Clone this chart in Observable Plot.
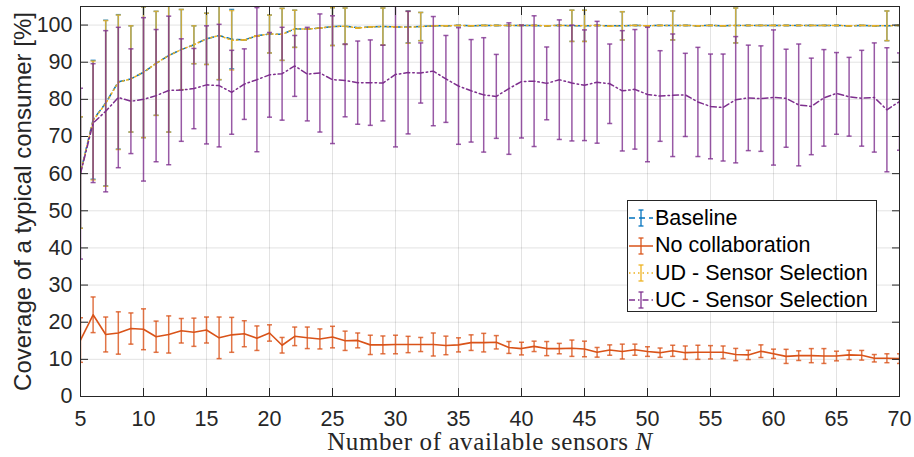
<!DOCTYPE html>
<html><head><meta charset="utf-8">
<script src="https://cdn.jsdelivr.net/npm/d3@7"></script>
<script src="https://cdn.jsdelivr.net/npm/@observablehq/plot@0.6"></script>
<style>
body{margin:0;background:#fff;}
#wrap{position:relative;width:914px;height:457px;overflow:hidden;}
#legend{position:absolute;left:627px;top:200px;width:250px;height:112px;border:1px solid #262626;background:#fff;box-sizing:border-box;font-family:"Liberation Sans",Arial,sans-serif;font-size:21.5px;color:#000;}
.row{position:absolute;left:0;height:28px;display:flex;align-items:center;white-space:nowrap;}
.row svg{display:block;margin-right:1px;}
</style></head><body><div id="wrap"></div>
<script>
// x categories: number of available sensors N
const N = [5,6,7,8,9,10,11,12,13,14,15,16,17,18,19,20,21,22,23,24,25,26,27,28,29,30,31,32,33,34,35,36,37,38,39,40,41,42,43,44,45,46,47,48,49,50,51,52,53,54,55,56,57,58,59,60,61,62,63,64,65,66,67,68,69,70];

const baselineMean = [60.3,74.5,79.0,84.7,85.5,87.3,89.7,91.8,93.4,94.7,96.3,97.2,96.2,96.0,97.1,97.6,97.5,99.0,98.9,99.2,99.6,99.7,99.3,99.5,99.6,99.5,99.5,99.6,99.8,99.8,99.9,99.8,99.9,99.9,99.9,99.9,99.9,99.8,99.9,99.8,99.8,99.9,99.8,99.8,99.9,99.8,99.9,99.9,99.9,99.8,99.9,99.8,99.9,99.9,99.9,99.9,99.9,99.9,99.9,99.9,99.9,99.8,99.9,99.8,99.8,99.9];
const baselineErr = [15,16,22.3,18.1,14.3,17.6,14,20.6,10.8,5.1,6.9,11.9,8,0,0,5.1,7,5,0,0,5.1,4.9,0,0,5,0,4.3,3.8,0,0,0,0,0,0,0,0,0,0,0,4.2,4.2,0,0,3.8,0,0,0,3.9,0,0,0,0,4.7,0,0,0,0,0,0,0,0,0,0,0,4,0];

const noCollabMean = [15.2,22.0,16.7,17.1,18.3,18.1,16.1,16.7,17.7,17.3,17.9,15.8,16.6,16.9,15.7,17.1,13.8,16.2,15.8,15.5,16.0,15.0,15.1,13.9,13.9,14.0,14.0,14.0,14.0,13.75,13.9,14.5,14.5,14.6,13.2,12.9,13.5,12.9,12.9,13.0,12.8,11.9,12.5,12.1,12.6,12.1,11.8,12.3,11.8,11.9,11.9,11.9,11.3,11.2,12.2,11.5,10.8,11.0,11.0,10.9,10.9,11.2,11.1,10.3,10.3,10.2];
const noCollabErr = [6.0,4.8,4.7,5.7,4.2,5.5,4.2,5.0,3.3,3.8,3.5,5.6,4.7,3.5,3.3,2.2,2.1,2.5,2.9,2.7,2.9,2.6,2.0,2.6,2.4,2.5,2.2,1.9,3.1,2.5,1.9,2.1,2.5,1.8,1.6,1.7,1.4,1.9,1.4,2.2,2.1,1.3,1.4,2.0,1.5,1.3,1.25,1.5,1.8,1.9,1.8,1.7,1.65,1.25,1.7,1.25,1.9,1.3,1.9,2.0,1.3,1.25,1.3,1.0,1.2,1.3];

const udMean = [60.3,74.3,78.9,84.6,85.5,87.3,89.7,91.8,93.4,94.7,96.3,97.2,95.9,96.0,97.1,97.6,97.5,99.0,98.9,99.2,99.6,99.7,99.2,99.5,99.6,99.5,99.4,99.6,99.8,99.8,99.9,99.8,99.9,99.9,99.9,99.9,99.9,99.8,99.9,99.8,99.8,99.9,99.7,99.8,99.9,99.8,99.9,99.9,99.9,99.8,99.9,99.8,99.9,99.9,99.9,99.9,99.9,99.9,99.9,99.9,99.9,99.8,99.9,99.8,99.8,99.9];
const udErr = [15,16,22.3,18.1,14.3,17.6,14,20.6,10.8,5.1,6.9,11.9,8,0,0,5.1,7,5,0,0,5.1,4.9,0,0,5,0,4.3,3.8,0,0,0,0,0,0,0,0,0,0,0,4.2,4.2,0,0,3.8,0,0,0,3.9,0,0,0,0,4.7,0,0,0,0,0,0,0,0,0,0,0,4,0];

const ucMean = [60.0,73.6,76.8,80.5,79.5,80.0,81.0,82.4,82.5,82.9,83.9,83.7,81.9,84.1,85.3,86.6,86.9,89.0,86.8,87.1,85.3,85.1,84.5,84.5,84.4,86.7,87.2,87.1,87.6,85.5,83.6,82.3,81.2,80.8,82.9,84.8,84.9,84.3,85.3,84.4,83.8,84.6,84.2,82.3,82.7,81.3,80.9,81.1,81.2,79.3,78.1,77.8,79.9,80.4,80.2,80.5,80.3,78.5,78.1,80.4,81.6,80.7,80.3,80.5,77.2,79.4];
const ucErr = [23,16,21.7,18.9,14.1,22,17.8,20,13.8,10.8,15.9,16.5,11.3,9.5,19.4,11.4,12.5,8.2,12.6,15.9,17.2,9.8,11.2,11.5,10.2,19.5,16.5,8.1,14.7,11.7,15.7,13.8,15.4,11.3,17.7,15.2,17.6,9.8,16.1,15.6,14.9,16.4,10.7,16.2,16.1,18.1,12.2,16.5,11.2,14.7,14.1,14.4,17.0,14.2,14.2,18.2,13.2,16.4,13.0,13.0,11.0,10.6,12.9,14.7,16.7,13.1];

const xTicks = [5,10,15,20,25,30,35,40,45,50,55,60,65,70];
const yTicks = [0,10,20,30,40,50,60,70,80,90,100];

const seriesNames = ["Baseline","No collaboration","UD - Sensor Selection","UC - Sensor Selection"];
const seriesColors = ["#0072BD","#D95319","#EDB120","#7E2F8E"];
const seriesDash = ["6,4",null,"1.5,3","6,3,1.5,3"];
const seriesMeans = [baselineMean, noCollabMean, udMean, ucMean];
const seriesErrs = [baselineErr, noCollabErr, udErr, ucErr];

const CAP = 0.2; // cap half-width in data units of N
const marks = [];
marks.push(Plot.gridX(xTicks, {stroke:"#262626", strokeOpacity:0.13}));
marks.push(Plot.gridY(yTicks, {stroke:"#262626", strokeOpacity:0.13}));

seriesNames.forEach((name, s) => {
  const data = N.map((n, i) => ({n, mean: seriesMeans[s][i], err: seriesErrs[s][i]}));
  const color = seriesColors[s];
  const barOpts = {stroke: color, strokeWidth: 1.5, strokeOpacity: 0.8, clip: true};
  marks.push(Plot.link(data, {x1:"n", x2:"n", y1: d => d.mean - d.err, y2: d => d.mean + d.err, ...barOpts}));
  marks.push(Plot.link(data, {x1: d => d.n - CAP, x2: d => d.n + CAP, y1: d => d.mean + d.err, y2: d => d.mean + d.err, ...barOpts}));
  marks.push(Plot.link(data, {x1: d => d.n - CAP, x2: d => d.n + CAP, y1: d => d.mean - d.err, y2: d => d.mean - d.err, ...barOpts}));
  marks.push(Plot.line(data, {x:"n", y:"mean", stroke: color, strokeWidth: s === 1 ? 1.6 : 1.5, strokeDasharray: seriesDash[s], clip: true}));
});

// inward ticks on all four sides
marks.push(Plot.axisX(xTicks, {anchor:"bottom", tickSize:8, dy:-8, tickFormat:() => "", label:null, stroke:"#262626"}));
marks.push(Plot.axisX(xTicks, {anchor:"top", tickSize:8, dy:8, tickFormat:() => "", label:null, stroke:"#262626"}));
marks.push(Plot.axisY(yTicks, {anchor:"left", tickSize:8, dx:8, tickFormat:() => "", label:null, stroke:"#262626"}));
marks.push(Plot.axisY(yTicks, {anchor:"right", tickSize:8, dx:-8, tickFormat:() => "", label:null, stroke:"#262626"}));
// tick labels
marks.push(Plot.axisX(xTicks, {anchor:"bottom", tickSize:0, tickPadding:14, fontSize:21.5, label:null, fill:"#262626"}));
marks.push(Plot.axisY(yTicks, {anchor:"left", tickSize:0, tickPadding:8, fontSize:21.5, label:null, fill:"#262626"}));
marks.push(Plot.frame({stroke:"#262626", strokeWidth:1}));
// axis titles
marks.push(Plot.text(["Coverage of a typical consumer [%]"], {text: d => d, frameAnchor:"left", dx:-57, rotate:-90, textAnchor:"middle", lineAnchor:"middle", fontSize:24, fill:"#262626"}));
marks.push(Plot.text(["Number of available sensors N"], {text: d => d, frameAnchor:"bottom", dy:45, textAnchor:"middle", lineAnchor:"middle", fontSize:25, fontFamily:"'Liberation Serif','DejaVu Serif',serif", fill:"#262626"}));

const chart = Plot.plot({
  width: 914, height: 457,
  marginLeft: 80, marginRight: 15, marginTop: 6, marginBottom: 61,
  x: {type:"linear", domain:[5,70]},
  y: {type:"linear", domain:[0,105]},
  style: {fontFamily:"'Liberation Sans',Arial,Helvetica,sans-serif", background:"#fff", color:"#262626", overflow:"visible"},
  marks
});

// italic N in the x-axis title, slight letter spacing to mimic the wider LaTeX font
d3.select(chart).selectAll("text").each(function() {
  if (this.textContent === "Number of available sensors N") {
    this.textContent = "Number of available sensors ";
    d3.select(this).attr("letter-spacing", "0.6px");
    d3.select(this).append("tspan").attr("font-style","italic").text("N");
  }
});

const wrap = document.getElementById("wrap");
wrap.appendChild(chart);

// legend overlay
const legend = document.createElement("div");
legend.id = "legend";
const rowTops = [3, 30.5, 58, 85];
seriesNames.forEach((name, s) => {
  const row = document.createElement("div");
  row.className = "row";
  row.style.top = rowTops[s] + "px";
  const ns = "http://www.w3.org/2000/svg";
  const svg = document.createElementNS(ns, "svg");
  svg.setAttribute("width", 26); svg.setAttribute("height", 28);
  const mk = (x1,y1,x2,y2,dash,op) => {
    const l = document.createElementNS(ns, "line");
    l.setAttribute("x1",x1); l.setAttribute("y1",y1); l.setAttribute("x2",x2); l.setAttribute("y2",y2);
    l.setAttribute("stroke", seriesColors[s]); l.setAttribute("stroke-width", 1.5);
    if (dash) l.setAttribute("stroke-dasharray", dash);
    if (op) l.setAttribute("stroke-opacity", op);
    svg.appendChild(l);
  };
  mk(1,14,25,14,seriesDash[s]);
  mk(13,6,13,22,null,0.85);
  mk(10.5,6,15.5,6,null,0.85);
  mk(10.5,22,15.5,22,null,0.85);
  row.appendChild(svg);
  const t = document.createElement("span");
  t.textContent = name;
  row.appendChild(t);
  legend.appendChild(row);
});
wrap.appendChild(legend);
</script>
</body></html>
